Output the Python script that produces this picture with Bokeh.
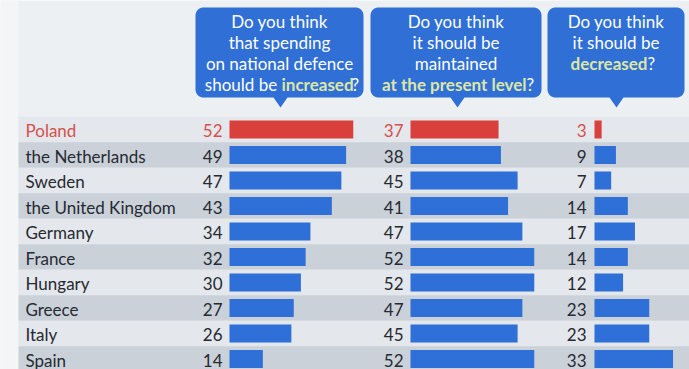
import numpy as np
from bokeh.plotting import figure
from bokeh.models import ColumnDataSource, Range1d
from bokeh.core.properties import value
from bokeh.embed import file_html
from bokeh.resources import INLINE

# ---- data ----
countries = ["Poland", "the Netherlands", "Sweden", "the United Kingdom", "Germany",
             "France", "Hungary", "Greece", "Italy", "Spain"]
increased = [52, 49, 47, 43, 34, 32, 30, 27, 26, 14]
maintained = [37, 38, 45, 41, 47, 52, 52, 47, 45, 52]
decreased = [3, 9, 7, 14, 17, 14, 12, 23, 23, 33]

# ---- styles / layout ----
W, H = 689, 369
FONT = "Lato"
BLUE = "#2e6fd8"
RED = "#d9403c"
RED_TXT = "#d4504c"
DARK = "#262a31"
HILITE = "#dde6a6"
ROW0, ROWH = 129.0, 25.5
SCALE = 2.38
bar_x0 = [229, 410, 594]
num_x = [222, 403, 586]

p = figure(width=W, height=H, output_backend="svg", toolbar_location=None,
           x_range=Range1d(0, W), y_range=Range1d(H, 0), min_border=0,
           background_fill_color="#edf0f3", border_fill_color="#edf0f3")
p.axis.visible = False
p.grid.visible = False
p.outline_line_color = None

n = len(countries)
idx = np.arange(n)
yc = ROW0 + ROWH * idx

# left whiter strip
p.quad(left=[0], right=[18], top=[0], bottom=[H], fill_color="#f4f5f7", line_color=None)

# row stripes
stripe_col = ["#e4e7eb" if i % 2 == 0 else "#cad1d9" for i in idx]
p.quad(left=18, right=W, top=yc - ROWH / 2, bottom=yc + ROWH / 2,
       fill_color=stripe_col, line_color=None)

bar_colors = [RED if c == "Poland" else BLUE for c in countries]
txt_colors = [RED_TXT if c == "Poland" else DARK for c in countries]

for k, series in enumerate([increased, maintained, decreased]):
    vals = np.array(series, dtype=float)
    src = ColumnDataSource(dict(
        left=np.full(n, bar_x0[k], dtype=float),
        right=bar_x0[k] + vals * SCALE,
        top=yc - 9, bottom=yc + 9, color=bar_colors,
        tx=np.full(n, num_x[k], dtype=float), ty=yc + 1,
        label=[str(v) for v in series], tcolor=txt_colors))
    p.quad(left="left", right="right", top="top", bottom="bottom",
           fill_color="color", line_color=None, source=src)
    p.text(x="tx", y="ty", text="label", text_color="tcolor", source=src,
           text_font=value(FONT), text_font_size="17px",
           text_align="right", text_baseline="middle")

lab_src = ColumnDataSource(dict(x=np.full(n, 25.0), y=yc + 1, t=countries, c=txt_colors))
p.text(x="x", y="y", text="t", text_color="c", source=lab_src,
       text_font=value(FONT), text_font_size="17px",
       text_align="left", text_baseline="middle")

# ---- speech bubbles ----
def bubble(x0, x1, y0, y1, tx, ty, w=7, r=8):
    xs, ys = [], []
    def arc(cx, cy, a0, a1):
        a = np.radians(np.linspace(a0, a1, 10))
        xs.extend(cx + r * np.cos(a)); ys.extend(cy + r * np.sin(a))
    arc(x0 + r, y0 + r, 180, 270)
    arc(x1 - r, y0 + r, 270, 360)
    arc(x1 - r, y1 - r, 0, 90)
    xs.extend([tx + w, tx, tx - w]); ys.extend([y1, ty, y1])
    arc(x0 + r, y1 - r, 90, 180)
    return xs, ys

bubbles = [(195, 363, 7, 97, 280, 107), (370, 541, 7, 97, 457, 107), (547, 684, 7, 97, 616, 107)]
bx, by = [], []
for b in bubbles:
    xs, ys = bubble(*b)
    bx.append(xs); by.append(ys)
p.patches(bx, by, fill_color="#2f6fd6", line_color=None)

def txt(x, y, s, color="white", align="center", bold=False):
    p.text(x=[x], y=[y], text=[s], text_color=color, text_font=value(FONT),
           text_font_size="17px", text_align=align, text_baseline="middle",
           text_font_style="bold" if bold else "normal")

LY = [21, 42, 63, 84]
c1, c2, c3 = 279, 455.5, 615.5
txt(c1, LY[0], "Do you think")
txt(c1, LY[1], "that spending")
txt(c1, LY[2], "on national defence")
txt(281, LY[3], "should be ", align="right")
txt(281, LY[3], "increased", color=HILITE, align="left", bold=True)
txt(351, LY[3], "?", align="left")

txt(c2, LY[0], "Do you think")
txt(c2, LY[1], "it should be")
txt(c2, LY[2], "maintained")
txt(526, LY[3], "at the present level", color=HILITE, align="right", bold=True)
txt(526, LY[3], "?", align="left")

txt(c3, LY[0], "Do you think")
txt(c3, LY[1], "it should be")
txt(647, LY[2], "decreased", color=HILITE, align="right", bold=True)
txt(647, LY[2], "?", align="left")

open("out.html", "w").write(file_html(p, INLINE))
